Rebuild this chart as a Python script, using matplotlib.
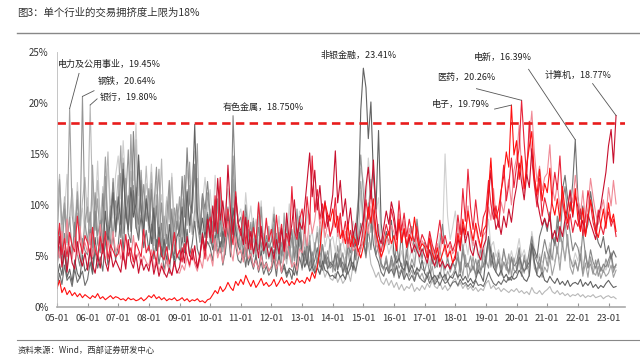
import numpy as np
import pandas as pd
import matplotlib
matplotlib.use("Agg")
import matplotlib.pyplot as plt
import matplotlib.dates as mdates

plt.rcParams['font.family'] = ['Noto Sans CJK SC', 'DejaVu Sans']

# monthly crowding values (%), 2005-01 .. 2023-04
dates = pd.date_range("2005-01-01", periods=220, freq="MS")

# 电力及公用事业
g_util = [
    6.0, 12.5, 8.1, 10.2, 7.4, 19.45, 9.0, 6.8, 11.3, 7.2, 5.9, 8.4,
    9.8, 6.1, 13.9, 7.5, 10.6, 6.3, 8.8, 14.7, 7.1, 9.4, 12.2, 6.9,
    10.1, 15.8, 8.2, 12.6, 7.4, 16.9, 9.3, 11.7, 6.5, 13.4, 8.0, 10.9,
    7.3, 12.1, 6.0, 9.8, 13.5, 5.6, 8.9, 6.2, 11.4, 4.8, 9.7, 7.6,
    10.8, 6.4, 12.9, 8.0, 14.2, 7.1, 9.5, 16.0, 6.3, 10.7, 7.8, 11.2,
    8.4, 5.7, 9.9, 6.6, 11.8, 5.4, 7.2, 9.1, 6.0, 12.5, 8.3, 6.7,
    5.5, 9.0, 4.9, 7.6, 5.8, 8.7, 4.6, 10.3, 5.9, 6.8, 4.7, 7.9,
    4.4, 8.1, 5.2, 6.7, 4.3, 9.2, 5.0, 6.1, 3.9, 7.4, 4.8, 8.8,
    3.6, 5.9, 4.1, 7.0, 3.5, 6.3, 4.2, 8.0, 3.8, 5.4, 4.0, 6.6,
    3.4, 5.1, 3.9, 6.2, 3.1, 4.8, 5.6, 3.7, 7.4, 5.2, 9.8, 12.3,
    8.6, 6.1, 10.2, 7.3, 9.5, 6.4, 8.1, 4.2, 3.6, 5.0, 3.3, 4.4,
    2.9, 4.1, 3.2, 3.8, 2.7, 4.5, 3.0, 3.6, 2.6, 3.9, 2.8, 3.3,
    2.5, 3.4, 2.7, 4.0, 2.4, 3.1, 2.8, 4.6, 2.6, 3.5, 2.9, 3.2,
    3.8, 2.7, 4.4, 3.0, 5.1, 2.8, 3.6, 4.9, 2.9, 4.1, 3.3, 5.6,
    4.2, 6.3, 3.9, 5.0, 3.4, 4.7, 3.1, 4.4, 3.6, 5.2, 3.0, 4.8,
    3.7, 5.5, 4.1, 3.3, 4.6, 3.0, 5.8, 3.8, 3.2, 4.3, 2.9, 3.9,
    3.4, 4.8, 3.1, 4.2, 5.9, 3.6, 6.4, 4.5, 7.1, 3.9, 3.2, 4.6,
    3.5, 5.2, 3.0, 4.3, 2.9, 4.9, 3.4, 3.1, 4.0, 2.8, 3.6, 3.0,
    3.3, 4.1, 2.9, 3.6]

# 钢铁
g_steel = [
    4.2, 7.8, 5.1, 9.6, 6.3, 8.8, 5.4, 7.1, 10.5, 6.6, 20.64, 8.2,
    6.4, 9.3, 5.8, 11.2, 7.0, 8.5, 6.1, 12.8, 7.4, 9.9, 6.8, 10.4,
    8.6, 13.1, 7.2, 10.5, 15.4, 8.1, 11.9, 7.7, 14.3, 9.0, 12.0, 8.4,
    11.6, 7.5, 9.8, 13.7, 6.9, 10.2, 5.8, 8.6, 12.4, 6.3, 7.9, 10.1,
    5.7, 9.2, 6.8, 11.5, 7.3, 9.7, 13.6, 8.0, 6.4, 10.9, 7.5, 9.3,
    6.2, 8.4, 5.5, 10.6, 6.9, 7.8, 5.1, 9.4, 6.6, 14.8, 7.7, 5.9,
    7.4, 5.2, 9.1, 6.0, 8.3, 4.9, 7.0, 5.6, 9.8, 5.3, 6.5, 4.7,
    5.9, 4.4, 7.2, 5.1, 6.3, 4.6, 8.4, 5.0, 6.8, 4.5, 9.6, 6.0,
    5.2, 7.9, 4.6, 6.5, 4.2, 5.8, 7.3, 4.9, 6.1, 4.3, 5.5, 4.0,
    4.5, 3.8, 6.0, 4.1, 5.3, 3.7, 6.8, 4.6, 5.9, 7.7, 10.6, 14.9,
    11.2, 7.9, 9.3, 12.5, 8.2, 6.6, 5.4, 4.0, 3.7, 4.8, 3.5, 4.6,
    3.4, 5.0, 3.8, 4.3, 3.2, 5.6, 3.6, 4.7, 3.9, 6.2, 4.4, 3.7,
    3.5, 4.6, 3.3, 5.2, 3.8, 4.1, 5.7, 4.3, 3.6, 4.9, 3.4, 4.2,
    4.0, 5.4, 3.5, 6.1, 4.3, 3.9, 5.0, 3.6, 4.7, 3.3, 5.8, 3.9,
    4.6, 3.8, 5.9, 4.2, 3.7, 5.3, 3.5, 4.4, 3.9, 3.2, 4.8, 3.6,
    3.3, 4.6, 3.0, 5.1, 3.7, 4.0, 6.5, 4.3, 3.5, 4.9, 3.4, 5.4,
    4.0, 5.7, 4.6, 6.8, 5.2, 7.5, 5.9, 8.3, 6.1, 4.8, 3.9, 4.4,
    3.6, 4.9, 3.3, 5.5, 3.8, 4.2, 3.2, 4.6, 3.0, 3.9, 3.4, 4.7,
    3.9, 5.1, 3.4, 4.2]

# 银行
g_bank = [
    9.4, 13.0, 7.2, 10.8, 6.1, 8.9, 11.6, 7.5, 9.2, 6.8, 10.4, 12.7,
    8.3, 19.80, 10.1, 7.6, 12.4, 8.8, 6.9, 10.7, 15.2, 7.8, 11.3, 9.0,
    12.9, 8.4, 14.6, 9.9, 7.6, 13.3, 10.2, 16.4, 8.7, 11.5, 9.3, 13.8,
    9.1, 13.2, 7.7, 11.0, 8.3, 14.5, 7.0, 10.4, 8.6, 12.7, 6.5, 9.5,
    7.2, 10.6, 6.3, 9.0, 11.9, 7.4, 8.2, 12.6, 9.1, 7.0, 10.0, 6.8,
    9.6, 6.5, 8.7, 5.9, 10.4, 7.1, 6.3, 8.8, 5.7, 11.0, 6.6, 8.0,
    6.0, 8.2, 5.1, 7.4, 4.8, 6.7, 5.6, 8.9, 4.9, 7.2, 5.3, 6.2,
    5.0, 6.9, 4.5, 7.8, 4.9, 5.6, 4.2, 6.3, 4.6, 5.9, 4.0, 8.5,
    6.1, 4.4, 5.3, 3.7, 4.8, 3.4, 4.1, 3.2, 3.9, 2.9, 3.6, 2.8,
    2.6, 3.3, 2.4, 3.0, 2.3, 2.7, 3.5, 2.5, 4.1, 3.3, 6.8, 11.4,
    7.4, 5.0, 6.3, 4.2, 3.6, 2.9, 3.4, 2.5, 2.2, 2.8, 2.1, 2.6,
    1.9, 2.4, 1.7, 2.2, 1.6, 2.0, 1.8, 2.3, 1.5, 1.9, 1.6, 2.1,
    1.7, 2.3, 1.9, 2.6, 2.0, 1.8, 2.4, 1.7, 2.1, 1.6, 1.9, 2.5,
    2.8, 2.0, 2.4, 1.8, 2.2, 1.7, 2.0, 1.6, 1.9, 1.5, 1.8, 1.6,
    2.3, 2.6, 1.8, 2.1, 1.7, 1.9, 1.5, 1.8, 1.6, 1.4, 1.7, 1.5,
    1.8, 1.4, 1.6, 1.3, 1.5, 1.2, 1.9, 1.4, 1.3, 1.6, 1.2, 1.5,
    1.7, 2.0, 1.5, 1.3, 1.6, 1.2, 1.4, 1.1, 1.3, 1.0, 1.2, 1.1,
    1.3, 1.0, 1.2, 0.9, 1.1, 1.0, 1.2, 0.9, 1.0, 1.1, 0.8, 1.0,
    1.1, 0.9, 1.0, 0.8]

# 有色金属
g_metal = [
    3.8, 5.9, 4.4, 7.2, 3.6, 6.1, 4.9, 8.3, 5.2, 4.0, 6.7, 5.5,
    5.1, 7.6, 4.7, 9.4, 6.2, 5.3, 11.1, 6.5, 8.0, 5.8, 12.6, 7.3,
    9.2, 6.8, 14.1, 8.7, 10.9, 7.4, 17.2, 9.8, 8.1, 12.4, 7.6, 10.3,
    8.0, 11.5, 6.7, 9.9, 5.9, 8.2, 4.8, 7.1, 5.6, 9.6, 5.2, 8.4,
    6.9, 12.8, 8.8, 15.6, 10.1, 9.2, 14.0, 8.4, 7.3, 11.1, 9.6, 12.3,
    9.0, 7.3, 10.5, 6.8, 8.6, 5.9, 7.7, 9.8, 6.6, 18.75, 11.3, 8.2,
    8.8, 6.5, 10.0, 7.1, 6.2, 8.4, 5.5, 7.8, 6.0, 5.2, 7.0, 5.8,
    6.4, 9.1, 5.6, 7.3, 5.0, 6.6, 4.7, 5.9, 7.6, 4.8, 6.2, 8.9,
    5.7, 4.5, 6.3, 4.0, 5.4, 3.6, 4.8, 3.9, 6.1, 4.2, 4.9, 3.8,
    4.1, 3.5, 5.2, 3.9, 4.4, 3.4, 6.0, 5.3, 7.1, 4.6, 6.4, 8.2,
    6.5, 4.8, 7.7, 5.6, 8.9, 5.1, 6.0, 4.3, 3.8, 4.5, 3.5, 5.0,
    3.9, 6.1, 4.5, 7.4, 4.0, 5.3, 6.6, 7.9, 5.4, 8.6, 6.1, 4.7,
    6.3, 4.8, 7.0, 4.2, 5.5, 3.9, 6.2, 8.1, 5.6, 4.6, 3.8, 4.4,
    3.7, 4.9, 3.3, 5.6, 3.9, 4.3, 3.4, 4.0, 3.2, 4.6, 3.6, 4.1,
    5.0, 6.6, 4.1, 5.3, 3.8, 4.5, 3.6, 5.7, 4.2, 3.4, 4.9, 4.0,
    4.3, 5.8, 3.7, 4.6, 3.9, 5.5, 6.9, 5.1, 4.4, 3.8, 5.2, 6.6,
    5.4, 4.7, 7.2, 6.0, 8.9, 6.4, 10.2, 11.8, 9.0, 7.3, 5.5, 6.3,
    5.8, 4.6, 7.4, 5.1, 3.9, 5.6, 4.4, 3.8, 4.7, 3.5, 4.2, 3.9,
    4.6, 5.3, 3.8, 4.1]

# 非银金融
g_nonbank = [
    2.6, 4.2, 3.1, 5.5, 2.9, 3.7, 2.4, 4.6, 3.3, 2.8, 5.1, 3.5,
    3.9, 5.6, 3.4, 6.8, 4.5, 7.9, 5.2, 9.4, 6.3, 8.6, 11.2, 7.4,
    10.8, 8.1, 13.5, 9.2, 7.6, 11.7, 8.8, 10.1, 14.9, 9.5, 7.3, 10.6,
    8.4, 6.2, 9.7, 5.5, 7.8, 4.9, 6.6, 4.3, 8.1, 5.8, 4.6, 6.9,
    7.5, 9.8, 6.4, 11.3, 8.0, 10.5, 17.9, 9.3, 7.1, 8.7, 6.8, 9.1,
    7.0, 5.6, 6.5, 8.2, 5.3, 7.4, 6.2, 8.9, 5.8, 9.7, 7.5, 6.0,
    5.4, 4.6, 6.3, 4.1, 5.2, 3.9, 4.8, 3.6, 5.5, 3.8, 4.4, 3.5,
    3.9, 5.6, 3.7, 4.9, 3.4, 4.2, 3.2, 3.8, 3.6, 3.1, 4.5, 7.3,
    5.4, 3.9, 4.6, 3.5, 4.0, 3.3, 3.8, 3.2, 4.5, 3.6, 3.4, 3.0,
    3.1, 2.8, 3.5, 2.9, 3.2, 2.7, 3.9, 4.8, 3.6, 6.2, 9.5, 19.3,
    23.41, 21.5, 16.5, 20.1, 12.8, 9.6, 17.3, 8.2, 5.9, 7.4, 6.1, 8.5,
    5.2, 4.3, 4.8, 3.9, 3.6, 4.5, 3.4, 4.1, 3.2, 3.8, 3.5, 4.6,
    3.3, 2.9, 3.6, 2.7, 3.1, 2.6, 3.4, 2.8, 3.2, 2.5, 3.0, 2.8,
    3.5, 2.9, 3.2, 2.6, 3.0, 2.4, 2.8, 2.3, 2.7, 3.6, 3.1, 2.5,
    4.8, 6.9, 5.3, 3.9, 3.4, 3.0, 3.6, 2.8, 3.2, 2.6, 3.0, 2.7,
    2.9, 3.6, 3.2, 2.7, 2.5, 3.1, 6.2, 4.4, 3.1, 2.9, 3.4, 2.6,
    2.4, 3.0, 2.6, 2.3, 2.8, 2.2, 2.5, 2.1, 2.6, 2.0, 2.3, 2.4,
    2.2, 2.7, 2.0, 2.4, 2.1, 2.5, 1.9, 2.2, 1.8, 2.1, 1.9, 2.3,
    2.6, 2.2, 1.9, 2.0]

# 电新
g_power = [
    1.8, 3.3, 2.2, 4.1, 2.6, 3.0, 2.0, 3.7, 2.4, 2.9, 3.5, 2.1,
    2.7, 4.4, 3.2, 5.6, 3.8, 4.9, 3.5, 6.7, 4.1, 5.3, 7.1, 4.6,
    6.0, 8.9, 5.4, 9.8, 7.2, 6.3, 11.4, 7.9, 6.6, 9.0, 5.8, 7.5,
    5.5, 8.1, 4.7, 6.6, 4.2, 5.9, 3.6, 4.9, 3.3, 6.1, 4.0, 5.2,
    4.6, 6.8, 5.3, 7.6, 5.0, 6.2, 8.4, 5.7, 4.8, 7.3, 5.5, 6.4,
    5.8, 4.5, 7.0, 5.2, 6.4, 4.1, 5.5, 7.7, 4.9, 8.6, 6.0, 4.6,
    4.3, 5.7, 3.9, 6.2, 4.6, 3.7, 5.1, 3.4, 4.4, 3.2, 4.0, 3.1,
    3.5, 4.7, 3.0, 5.3, 3.3, 3.9, 2.9, 3.6, 2.7, 4.2, 3.1, 4.9,
    3.8, 5.5, 4.2, 6.0, 3.9, 4.6, 5.8, 4.1, 3.6, 5.1, 3.7, 4.4,
    4.0, 5.3, 3.6, 4.8, 3.4, 4.2, 3.2, 3.9, 4.4, 3.5, 4.7, 5.8,
    6.4, 5.2, 7.9, 8.8, 6.1, 5.0, 4.4, 3.4, 3.0, 3.9, 3.3, 3.7,
    3.1, 4.0, 2.8, 3.6, 2.7, 3.3, 2.6, 3.1, 2.5, 3.4, 2.9, 2.6,
    2.4, 3.0, 2.3, 2.9, 2.2, 2.6, 2.1, 2.8, 2.3, 2.5, 2.0, 2.4,
    2.5, 2.1, 2.7, 2.2, 2.4, 2.0, 2.3, 1.9, 2.6, 2.1, 2.2, 2.0,
    2.6, 3.4, 2.8, 2.3, 2.1, 2.5, 2.2, 2.7, 2.4, 2.9, 2.6, 3.3,
    3.6, 4.9, 4.1, 3.5, 3.9, 4.4, 6.1, 5.6, 4.8, 6.9, 7.8, 8.6,
    7.4, 9.3, 6.8, 6.2, 7.7, 9.1, 11.5, 12.9, 10.6, 9.4, 12.2, 16.39,
    10.8, 8.6, 9.9, 7.2, 8.1, 11.3, 9.5, 7.4, 6.3, 5.8, 6.9, 5.2,
    6.0, 4.7, 5.5, 4.9]

# another light grey industry
g_light = [
    7.5, 11.2, 6.6, 9.3, 13.0, 8.1, 10.6, 7.0, 12.2, 8.5, 9.7, 6.9,
    10.7, 7.9, 12.5, 9.0, 14.3, 8.2, 11.8, 9.5, 13.6, 10.3, 8.7, 12.9,
    14.8, 10.6, 16.3, 11.9, 9.8, 15.1, 12.4, 18.0, 10.9, 13.2, 9.6, 12.1,
    10.2, 14.0, 8.9, 12.3, 9.4, 11.0, 7.6, 10.8, 8.3, 13.1, 7.9, 9.2,
    8.6, 11.7, 9.9, 13.4, 10.5, 12.8, 15.3, 11.2, 8.5, 10.1, 12.7, 9.4,
    11.5, 8.0, 12.9, 9.2, 10.7, 7.3, 9.8, 11.6, 8.4, 13.9, 10.2, 8.8,
    9.6, 7.5, 11.2, 8.1, 9.9, 6.8, 8.6, 7.0, 10.4, 6.4, 8.1, 6.9,
    7.7, 9.8, 6.4, 8.9, 5.9, 7.6, 6.2, 10.1, 5.8, 8.3, 6.3, 9.4,
    8.2, 6.0, 9.5, 6.7, 7.4, 5.5, 7.9, 6.3, 8.8, 5.9, 7.1, 6.4,
    6.9, 5.4, 7.6, 5.8, 6.5, 5.1, 7.3, 6.6, 8.4, 7.0, 9.9, 13.6,
    12.4, 10.1, 14.6, 11.8, 13.3, 9.2, 10.7, 6.8, 5.6, 6.5, 5.2, 6.1,
    4.8, 6.0, 4.4, 5.5, 4.1, 6.3, 4.6, 5.8, 4.3, 6.8, 5.0, 4.5,
    4.2, 5.6, 4.0, 6.1, 4.7, 5.3, 7.2, 6.4, 15.0, 8.9, 6.6, 7.8,
    9.4, 6.9, 8.1, 5.7, 6.6, 5.1, 7.3, 5.4, 6.2, 4.8, 5.9, 4.6,
    6.8, 8.6, 5.9, 6.4, 4.9, 5.6, 4.5, 5.2, 4.7, 4.2, 5.5, 4.4,
    5.3, 6.7, 4.9, 5.6, 4.5, 5.0, 7.4, 5.8, 4.6, 5.2, 4.3, 4.9,
    4.7, 6.3, 5.1, 4.4, 5.5, 4.6, 5.9, 5.0, 6.4, 4.8, 4.2, 5.3,
    4.5, 5.9, 4.1, 5.0, 3.8, 4.6, 4.0, 3.7, 4.4, 3.5, 4.1, 3.6,
    4.3, 5.0, 3.7, 3.9]

# 医药
r_pharma = [
    5.8, 8.2, 5.1, 6.7, 4.9, 7.3, 6.0, 5.4, 8.9, 6.4, 5.2, 7.0,
    6.3, 5.0, 7.8, 5.6, 4.8, 6.9, 5.3, 7.4, 4.7, 6.1, 5.5, 4.9,
    5.2, 6.6, 4.6, 7.1, 5.0, 5.8, 4.4, 6.3, 5.6, 4.9, 7.6, 5.3,
    6.0, 4.7, 5.5, 4.3, 6.8, 5.1, 4.6, 5.9, 4.2, 5.4, 7.3, 4.8,
    5.6, 4.4, 6.2, 5.0, 4.1, 5.7, 4.5, 3.9, 5.2, 6.6, 4.7, 7.9,
    8.8, 6.3, 10.9, 7.2, 12.7, 8.4, 6.9, 9.6, 7.5, 6.1, 11.3, 8.0,
    7.0, 9.4, 6.2, 8.5, 5.6, 7.8, 6.5, 10.2, 7.1, 5.9, 8.7, 6.4,
    7.6, 5.8, 9.0, 6.3, 8.1, 5.4, 7.2, 6.0, 11.8, 7.4, 6.6, 8.5,
    9.6, 7.2, 10.8, 8.1, 14.8, 9.3, 11.5, 8.6, 10.1, 7.7, 9.0, 6.9,
    8.0, 10.7, 7.3, 9.2, 6.8, 8.4, 6.2, 7.5, 5.9, 6.6, 5.4, 6.1,
    7.8, 10.5, 8.6, 11.4, 9.0, 7.2, 6.3, 5.4, 6.9, 8.1, 7.0, 9.6,
    8.3, 6.6, 10.4, 7.5, 9.2, 6.9, 8.6, 7.2, 6.4, 7.9, 6.0, 7.1,
    6.5, 5.7, 7.4, 6.1, 5.3, 6.8, 8.5, 6.2, 7.0, 5.8, 6.4, 5.5,
    6.3, 9.0, 7.1, 11.6, 8.4, 13.5, 9.8, 7.6, 10.5, 8.2, 6.9, 8.8,
    9.5, 12.4, 10.1, 8.6, 9.9, 7.8, 11.2, 13.9, 10.4, 12.0, 14.6, 11.7,
    13.8, 15.6, 20.26, 16.1, 12.7, 18.2, 14.5, 11.9, 9.8, 12.6, 8.9, 10.7,
    9.6, 8.4, 10.9, 13.2, 11.5, 14.8, 10.4, 8.9, 7.6, 9.1, 7.3, 8.5,
    7.9, 9.6, 7.0, 8.8, 11.4, 10.1, 8.3, 7.2, 9.5, 8.0, 7.1, 8.4,
    9.3, 7.9, 8.6, 6.9]

# 电子
r_elec = [
    1.8, 2.6, 1.4, 1.9, 1.2, 1.6, 1.1, 1.4, 1.0, 1.3, 0.9, 1.2,
    1.0, 0.8, 1.1, 0.9, 1.3, 0.8, 1.0, 0.7, 0.9, 1.1, 0.8, 1.0,
    0.9, 0.7, 0.8, 0.6, 0.9, 0.7, 0.8, 0.6, 0.7, 0.9, 0.6, 0.8,
    1.1, 0.9, 1.2, 0.8, 1.0, 0.7, 0.9, 0.6, 0.8, 0.7, 0.9, 0.6,
    0.7, 0.9, 0.6, 0.8, 0.5, 0.7, 0.6, 0.8, 0.5, 0.6, 0.4, 0.7,
    0.8, 1.2, 1.6, 1.3, 2.0, 1.5, 1.8, 2.4, 1.9, 1.6, 2.5, 2.1,
    2.7, 2.2, 3.1, 2.5, 2.0, 2.6, 1.9, 2.3, 2.8, 2.1, 2.4, 2.0,
    2.2, 2.7, 2.0, 2.4, 2.9, 2.3, 2.6, 2.1, 2.5, 2.2, 2.8, 2.4,
    2.6, 2.3, 2.9, 2.5, 3.4, 2.8, 3.9, 5.6, 8.3, 10.2, 9.1, 8.4,
    9.6, 7.8, 8.9, 6.7, 7.5, 6.2, 8.1, 5.9, 7.0, 6.4, 5.6, 4.8,
    5.9, 7.6, 9.8, 8.2, 10.6, 7.4, 6.1, 4.9, 5.6, 6.8, 7.4, 6.2,
    7.0, 5.5, 8.6, 6.3, 7.7, 5.8, 7.1, 6.5, 8.8, 6.9, 5.6, 6.2,
    5.9, 4.8, 6.7, 5.3, 4.6, 5.8, 4.4, 5.2, 6.1, 4.9, 5.5, 4.3,
    5.1, 7.2, 6.0, 8.6, 7.1, 9.4, 7.8, 6.5, 8.2, 6.9, 5.8, 7.5,
    8.0, 11.3, 14.6, 10.2, 8.7, 9.6, 11.4, 12.8, 15.2, 13.7, 19.79, 14.9,
    16.3, 12.5, 14.8, 11.6, 13.9, 15.7, 17.2, 12.8, 11.0, 13.5, 10.4, 12.1,
    11.2, 13.6, 10.1, 9.0, 10.6, 8.4, 11.8, 9.5, 8.2, 10.3, 9.1, 11.6,
    8.6, 7.4, 9.7, 6.9, 8.8, 10.5, 9.2, 7.6, 6.8, 8.1, 9.6, 7.7,
    10.2, 8.3, 9.1, 7.4]

# 计算机
r_comp = [
    4.6, 6.9, 3.9, 5.5, 3.4, 5.9, 4.3, 3.7, 6.4, 4.8, 4.0, 5.3,
    3.6, 5.7, 4.1, 3.3, 5.0, 3.8, 6.2, 4.4, 3.5, 5.4, 3.9, 4.6,
    4.0, 3.4, 5.3, 3.7, 6.6, 4.5, 3.8, 5.1, 3.3, 4.7, 3.6, 4.2,
    3.5, 4.9, 3.2, 4.4, 3.0, 4.0, 3.4, 2.9, 3.8, 3.1, 4.5, 3.3,
    3.9, 5.8, 4.3, 6.9, 5.1, 4.6, 6.0, 3.8, 4.9, 7.2, 5.5, 8.6,
    6.8, 9.9, 7.4, 12.6, 8.5, 10.4, 7.8, 13.9, 9.3, 7.1, 10.8, 8.2,
    7.5, 6.1, 8.8, 5.7, 7.4, 5.2, 6.6, 4.8, 7.9, 5.5, 6.3, 4.9,
    5.8, 4.7, 6.6, 5.2, 7.7, 5.5, 9.2, 6.4, 8.1, 10.5, 7.0, 8.3,
    7.6, 9.9, 12.3, 15.1, 10.8, 13.4, 9.5, 11.9, 8.7, 10.4, 7.9, 9.2,
    11.0, 15.3, 10.2, 12.4, 8.9, 10.6, 7.8, 9.7, 6.9, 8.2, 6.1, 7.4,
    8.5, 11.8, 13.7, 10.6, 14.4, 9.3, 7.0, 6.2, 7.8, 9.4, 8.1, 10.3,
    9.1, 7.0, 8.2, 6.4, 7.6, 5.9, 6.8, 5.3, 6.1, 5.5, 4.9, 5.7,
    5.0, 4.3, 5.6, 4.6, 4.0, 5.1, 3.9, 4.5, 3.8, 4.2, 3.7, 4.4,
    4.7, 6.8, 5.5, 8.0, 6.3, 7.4, 5.6, 5.0, 6.5, 5.2, 4.6, 5.9,
    6.6, 10.8, 13.4, 9.5, 7.6, 8.4, 7.1, 8.9, 7.8, 9.6, 8.3, 10.4,
    11.8, 14.1, 12.2, 10.5, 13.0, 11.7, 15.5, 12.4, 10.6, 9.2, 8.0, 8.7,
    7.8, 8.9, 6.7, 7.5, 6.4, 7.9, 6.9, 8.6, 9.7, 11.4, 8.8, 10.9,
    9.8, 7.6, 8.5, 7.0, 9.1, 8.2, 7.4, 6.6, 8.8, 9.9, 11.6, 13.2,
    15.8, 17.4, 14.1, 18.77]

# pink red industry (no label)
r_pink = [
    6.5, 4.8, 7.4, 5.2, 8.6, 5.9, 4.7, 6.8, 5.1, 7.9, 5.6, 6.3,
    5.3, 7.2, 4.9, 6.0, 4.5, 8.1, 5.7, 4.6, 6.5, 5.0, 7.4, 5.4,
    6.1, 4.7, 5.5, 4.2, 5.9, 4.9, 7.0, 4.6, 5.3, 4.1, 5.0, 4.4,
    4.0, 5.6, 3.7, 4.8, 3.5, 4.3, 3.2, 4.6, 3.6, 3.1, 4.2, 3.4,
    3.3, 4.1, 3.6, 4.9, 3.9, 5.4, 4.2, 3.5, 4.7, 3.8, 5.9, 4.5,
    5.2, 4.0, 6.7, 4.8, 5.8, 4.3, 6.1, 8.4, 5.6, 4.5, 6.9, 5.1,
    5.6, 4.4, 6.3, 4.7, 5.2, 3.9, 4.6, 3.6, 5.0, 3.8, 4.3, 3.5,
    4.0, 5.2, 3.7, 4.6, 3.4, 4.9, 6.2, 5.1, 3.9, 4.4, 3.6, 5.7,
    5.3, 7.6, 6.0, 9.1, 7.2, 8.5, 10.6, 7.9, 9.4, 6.8, 8.1, 7.0,
    7.7, 9.5, 6.9, 8.6, 6.3, 7.4, 5.8, 6.6, 5.5, 5.9, 5.0, 5.6,
    6.6, 8.3, 7.2, 9.9, 8.0, 6.1, 5.5, 4.7, 5.9, 7.0, 6.2, 8.0,
    7.3, 5.8, 9.1, 6.6, 8.4, 6.0, 7.7, 6.3, 5.7, 7.0, 5.4, 6.5,
    6.0, 5.1, 7.0, 5.6, 4.9, 6.2, 5.3, 6.9, 5.5, 4.8, 6.0, 5.2,
    5.7, 8.1, 6.4, 7.6, 6.8, 9.9, 7.3, 6.0, 7.9, 6.5, 5.6, 7.0,
    7.4, 9.8, 8.5, 11.6, 9.0, 8.1, 10.3, 9.2, 11.1, 12.5, 10.0, 13.4,
    14.6, 17.8, 13.5, 11.2, 14.0, 16.4, 19.2, 15.1, 12.3, 13.8, 11.4, 12.7,
    13.1, 15.9, 11.8, 10.4, 12.1, 9.6, 10.9, 8.7, 9.8, 11.5, 10.2, 12.9,
    10.6, 9.1, 11.4, 8.3, 9.7, 12.6, 10.8, 9.2, 8.1, 9.4, 10.5, 8.6,
    11.7, 9.9, 12.4, 10.1]

grey_series = [g_light, g_bank, g_util, g_steel, g_metal, g_power, g_nonbank]
grey_colors = ["#cfcfcf", "#b8b8b8", "#a0a0a0", "#959595", "#858585", "#6f6f6f", "#626262"]
red_series = [r_pink, r_pharma, r_comp, r_elec]
red_colors = ["#f08a96", "#e8243a", "#c8102e", "#ff1010"]

LIMIT = 18

# label text, series, label position (year fraction, %), leader start or None
labels = [
    ("电力及公用事业，19.45%", g_util, (0.03, 23.8), (0.72, 22.9)),
    ("钢铁，20.64%", g_steel, (1.34, 22.1), (1.21, 21.2)),
    ("银行，19.80%", g_bank, (1.41, 20.5), (1.31, 20.4)),
    ("有色金属，18.750%", g_metal, (5.42, 19.6), None),
    ("非银金融，23.41%", g_nonbank, (8.59, 24.7), None),
    ("电新，16.39%", g_power, (13.6, 24.5), (15.39, 23.3)),
    ("医药，20.26%", r_pharma, (12.42, 22.5), (13.69, 21.4)),
    ("电子，19.79%", r_elec, (12.25, 19.8), (14.28, 19.4)),
    ("计算机，18.77%", r_comp, (15.92, 22.7), (17.48, 21.9)),
]


def yr(f):
    return pd.Timestamp("2005-01-01") + pd.Timedelta(days=f * 365.25)


fig = plt.figure(figsize=(6.4, 3.56), dpi=100)
ax = fig.add_axes([0.089, 0.138, 0.888, 0.716])

for s, c in zip(grey_series, grey_colors):
    ax.plot(dates, s, color=c, lw=0.8)
for s, c in zip(red_series, red_colors):
    ax.plot(dates, s, color=c, lw=0.8)

ax.axhline(LIMIT, color="#e81c1c", lw=1.9, ls=(0, (3.2, 2.0)))

for text, s, pos, start in labels:
    ax.text(yr(pos[0]), pos[1], text, fontsize=6.5, color="#222222",
            ha="left", va="center")
    if start is not None:
        i = int(np.argmax(s))
        ax.plot([yr(start[0]), dates[i]], [start[1], s[i]],
                color="#555555", lw=0.6)

ax.set_ylim(0, 25)
ax.set_xlim(pd.Timestamp("2005-01-01"), pd.Timestamp("2023-07-20"))
ax.set_yticks(range(0, 26, 5))
ax.set_yticklabels([f"{v}%" for v in range(0, 26, 5)])
ax.xaxis.set_major_locator(mdates.YearLocator())
ax.xaxis.set_major_formatter(mdates.DateFormatter("%y-%m"))
ax.tick_params(axis="x", direction="in", length=3, color="#999999",
               labelsize=6.8, labelcolor="#333333", pad=5)
ax.tick_params(axis="y", length=0, labelsize=7, labelcolor="#333333", pad=6)
for side in ["top", "right"]:
    ax.spines[side].set_visible(False)
ax.spines["bottom"].set_color("#aaaaaa")
ax.spines["bottom"].set_linewidth(1.2)
ax.spines["left"].set_color("#bbbbbb")
ax.spines["left"].set_linewidth(0.6)

fig.text(0.027, 0.965, "图3：单个行业的交易拥挤度上限为18%", fontsize=7.5,
         color="#333333", va="center", ha="left")
fig.add_artist(plt.Line2D([0.027, 1.0], [0.907, 0.907], color="#888888", lw=1.0))
fig.text(0.027, 0.017, "资料来源：Wind，西部证券研发中心", fontsize=6,
         color="#333333", va="center", ha="left")
fig.add_artist(plt.Line2D([0.027, 1.0], [0.045, 0.045], color="#888888", lw=0.8))

fig.savefig("out.png", dpi=100)
